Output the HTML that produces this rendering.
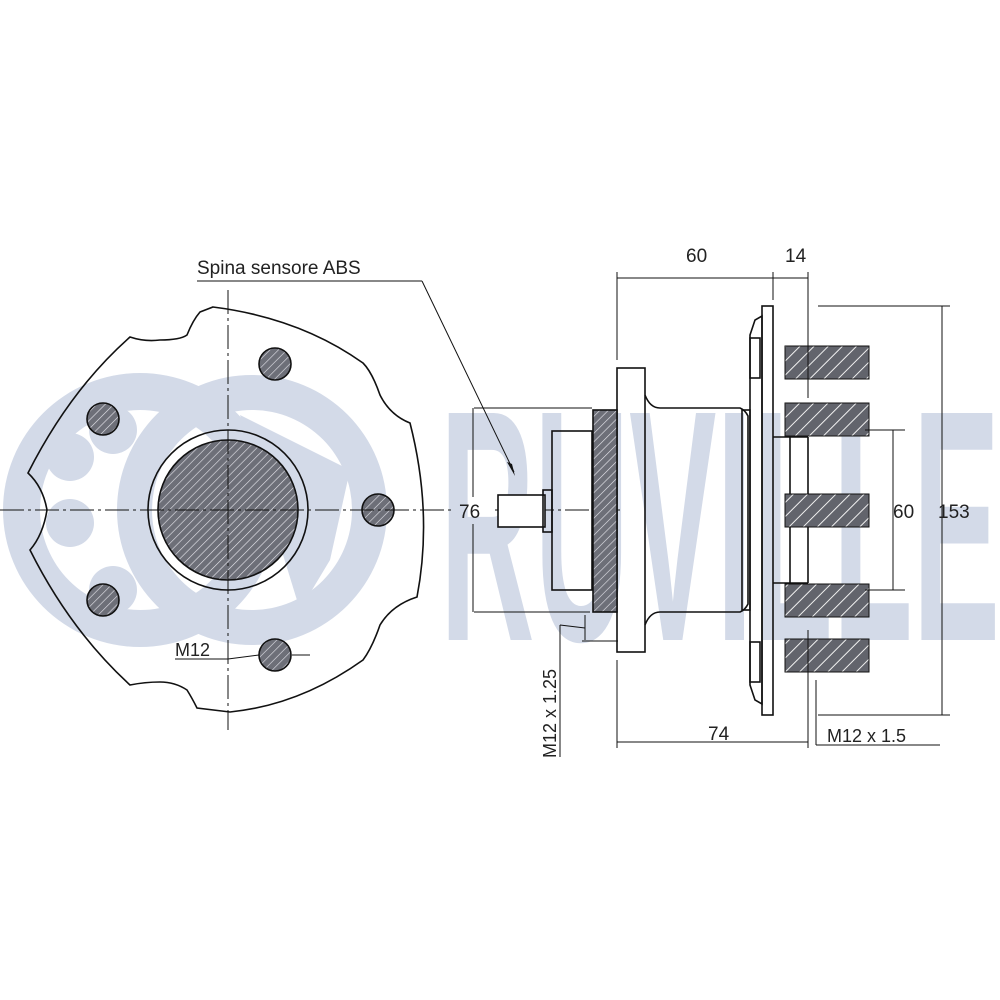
<!DOCTYPE html>
<html><head><meta charset="utf-8"><style>html,body{margin:0;padding:0;background:#fff}svg{display:block}</style></head>
<body>
<svg width="1000" height="1000" viewBox="0 0 1000 1000" xmlns="http://www.w3.org/2000/svg" font-family="Liberation Sans, sans-serif">
<defs>
<pattern id="h" patternUnits="userSpaceOnUse" width="6" height="6" patternTransform="rotate(45)">
<rect width="6" height="6" fill="#6d6f78"/><line x1="0" y1="0" x2="0" y2="6" stroke="#e8e8ee" stroke-width="1.2"/></pattern>
<pattern id="h2" patternUnits="userSpaceOnUse" width="10" height="10" patternTransform="rotate(45)">
<rect width="10" height="10" fill="#62646c"/><line x1="0" y1="0" x2="0" y2="10" stroke="#f0f0f0" stroke-width="2"/></pattern>
</defs>
<!-- watermark -->
<g fill="#d3dae8">
<path fill-rule="evenodd" d="M3,510a137,137 0 1,0 274,0a137,137 0 1,0 -274,0zM40,510a100,100 0 1,0 200,0a100,100 0 1,0 -200,0z"/>
<path fill-rule="evenodd" d="M117,510a135,135 0 1,0 270,0a135,135 0 1,0 -270,0zM152,510a100,100 0 1,0 200,0a100,100 0 1,0 -200,0z"/>
<circle cx="70" cy="457" r="24"/><circle cx="70" cy="523" r="24"/>
<circle cx="113" cy="430" r="24"/><circle cx="113" cy="590" r="24"/>
<path d="M240,415 L350,470 L330,560 L300,610Z"/>
<text x="440" y="640" font-size="330" font-weight="bold" textLength="560" lengthAdjust="spacingAndGlyphs">RUVILLE</text>
</g>
<!-- left view -->
<g fill="none" stroke="#111" stroke-width="1.6">
<path d="M200,312 L213,307 Q300,318 363,363 Q372,372 380,395 Q390,415 410,423 Q433,513 417,597 Q392,605 380,625 Q372,648 363,660 Q300,705 230,712 L197,708 Q192,698 187,690 Q175,682 160,682 Q145,682 130,685 Q70,630 30,550 Q43,535 47,510 Q43,487 28,473 Q70,390 130,337 Q145,342 160,340 Q180,340 187,335 Q193,320 200,312Z"/>
<circle cx="228" cy="510" r="80"/>
</g>
<circle cx="228" cy="510" r="70" fill="url(#h)" stroke="#111" stroke-width="1.6"/>
<g fill="url(#h)" stroke="#111" stroke-width="1.6">
<circle cx="275" cy="364" r="16"/><circle cx="103" cy="419" r="16"/><circle cx="378" cy="510" r="16"/><circle cx="103" cy="600" r="16"/><circle cx="275" cy="655" r="16"/>
</g>
<g stroke="#111" stroke-width="1" stroke-dasharray="24,4,3,4" fill="none">
<line x1="228" y1="290" x2="228" y2="730"/><line x1="0" y1="510" x2="455" y2="510"/><line x1="495" y1="510" x2="620" y2="510"/>
</g>
<text x="175" y="656" font-size="18" fill="#222">M12</text>
<g stroke="#111" stroke-width="1"><line x1="175" y1="659" x2="228" y2="659"/><line x1="228" y1="659" x2="259" y2="655"/><line x1="292" y1="655" x2="310" y2="655"/></g>
<!-- label -->
<text x="197" y="274" font-size="19" fill="#222">Spina sensore ABS</text>
<g stroke="#111" stroke-width="1"><line x1="197" y1="281" x2="422" y2="281"/><line x1="422" y1="281" x2="514" y2="472"/></g>
<path d="M515,476 L507,462 L512,464Z" fill="#111"/>
<!-- right view -->
<g fill="none" stroke="#111" stroke-width="1.6">
<rect x="498" y="495" width="47" height="32" fill="#fff"/>
<rect x="543" y="490" width="9" height="42"/>
<rect x="552" y="431" width="40" height="159"/>
<rect x="617" y="368" width="28" height="284"/>
<path d="M645,395 Q650,408 660,408 L740,408 Q745,410 748,416 L748,604 Q745,610 740,612 L660,612 Q650,612 645,625"/>
<rect x="742" y="410" width="8" height="200"/>
<path d="M750,335 L755,320 L762,316 L762,704 L755,700 L750,685Z"/>
<rect x="750" y="338" width="10" height="40"/><rect x="750" y="642" width="10" height="40"/>
<rect x="762" y="306" width="11" height="409"/>
<line x1="773" y1="437" x2="808" y2="437"/><line x1="773" y1="583" x2="808" y2="583"/>
<line x1="790" y1="437" x2="790" y2="583"/><line x1="808" y1="437" x2="808" y2="583"/>
</g>
<rect x="593" y="410" width="24" height="202" fill="url(#h)" stroke="#111" stroke-width="1.6"/>
<g fill="url(#h2)" stroke="#111" stroke-width="1">
<rect x="785" y="346" width="84" height="33"/><rect x="785" y="403" width="84" height="33"/>
<rect x="785" y="494" width="84" height="33"/><rect x="785" y="584" width="84" height="33"/>
<rect x="785" y="639" width="84" height="33"/>
</g>
<g stroke="#111" stroke-width="1" fill="none">
<line x1="617" y1="272" x2="617" y2="360"/><line x1="773" y1="272" x2="773" y2="300"/><line x1="808" y1="272" x2="808" y2="398"/>
<line x1="617" y1="278" x2="808" y2="278"/>
<line x1="818" y1="306" x2="950" y2="306"/><line x1="818" y1="715" x2="950" y2="715"/><line x1="942" y1="306" x2="942" y2="715"/>
<line x1="865" y1="430" x2="905" y2="430"/><line x1="865" y1="590" x2="905" y2="590"/><line x1="893" y1="430" x2="893" y2="590"/>
<line x1="474" y1="408" x2="592" y2="408"/><line x1="474" y1="612" x2="590" y2="612"/><line x1="473" y1="408" x2="473" y2="497"/><line x1="473" y1="524" x2="473" y2="612"/>
<line x1="617" y1="660" x2="617" y2="748"/><line x1="808" y1="630" x2="808" y2="748"/><line x1="617" y1="742" x2="808" y2="742"/>
<line x1="816" y1="680" x2="816" y2="745"/><line x1="816" y1="745" x2="940" y2="745"/>
<line x1="585" y1="615" x2="585" y2="640"/><line x1="582" y1="641" x2="618" y2="641"/>
<line x1="560" y1="625" x2="560" y2="757"/><line x1="560" y1="625" x2="585" y2="628"/>
</g>
<text x="686" y="262" font-size="19" fill="#222">60</text>
<text x="785" y="262" font-size="19" fill="#222">14</text>
<text x="459" y="518" font-size="19" fill="#222">76</text>
<text x="893" y="518" font-size="19" fill="#222">60</text>
<text x="938" y="518" font-size="19" fill="#222">153</text>
<text x="708" y="740" font-size="19" fill="#222">74</text>
<text x="827" y="742" font-size="18" fill="#222">M12 x 1.5</text>
<text transform="translate(556,758) rotate(-90)" font-size="18" fill="#222">M12 x 1.25</text>
</svg>
</body></html>
